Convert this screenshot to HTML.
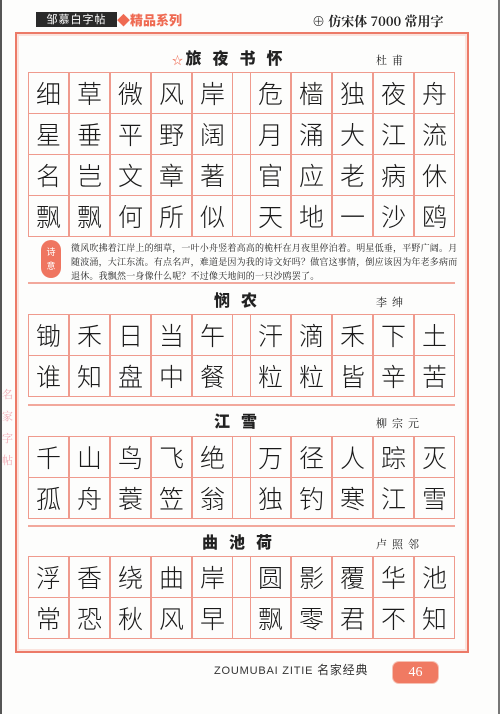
<!DOCTYPE html>
<html><head><meta charset="utf-8">
<style>
*{margin:0;padding:0;box-sizing:border-box}
body{width:500px;height:714px;background:#fdfdfc;position:relative;overflow:hidden;font-family:"Liberation Serif","Noto Serif CJK SC",serif}
.edgeL{position:absolute;left:0;top:0;width:2px;height:714px;background:#555}
.edgeR{position:absolute;right:0;top:0;width:2px;height:714px;background:#777}
.frame{position:absolute;left:15px;top:32px;width:454px;height:621px;border:2px solid #ec7a68;box-shadow:inset 0 0 0 2px #fbe3dd}
.abs{position:absolute}
.cell{position:absolute;width:41px;border:1px solid #ef9a8d;text-align:center;font-family:"Noto Sans CJK SC","Noto Serif CJK SC",sans-serif;font-weight:300;color:#1a1a1a;font-size:25px}
.gap{position:absolute;width:17px;border-top:1px solid #ef9a8d;border-bottom:1px solid #ef9a8d}
.title{position:absolute;font-family:"Noto Sans CJK SC",sans-serif;font-weight:900;font-size:16px;letter-spacing:11px;color:#222}
.author{position:absolute;font-family:"Noto Serif CJK SC",serif;font-size:11px;letter-spacing:5px;color:#222}
.sep{position:absolute;left:28px;width:427px;height:2px;background:#f2a89c}
</style></head><body>
<div class="edgeL"></div>
<div class="edgeR"></div>
<div class="abs" style="left:36px;top:12px;height:15px;width:81px;background:#2a2a2a;color:#fff;font-family:'Noto Sans CJK SC',sans-serif;font-size:11px;line-height:15px;text-align:center;letter-spacing:1px">邹慕白字帖</div>
<div class="abs" style="left:117px;top:11px;color:#ef6a52;font-family:'Noto Sans CJK SC',sans-serif;font-weight:900;font-size:13px;line-height:17px">◆精品系列</div>
<div class="abs" style="left:312px;top:11px;font-family:'Noto Serif CJK SC',serif;font-weight:700;font-size:13px;color:#222">⊕ 仿宋体 7000 常用字</div>
<div class="frame"></div>
<div class="abs" style="left:2px;top:383px;width:12px;font-size:11px;line-height:22px;color:#f0a9b3;font-family:'Noto Serif CJK SC',serif">名家字帖</div>
<div id="content"></div>
<div class="abs" style="left:41px;top:240px;width:20px;height:38px;border-radius:10px;background:#ef7560;color:#fff;font-size:9px;text-align:center;line-height:14px;padding-top:5px;font-family:'Noto Sans CJK SC',sans-serif">诗<br>意</div>
<div class="abs" style="left:71px;top:241px;width:389px;font-size:9px;letter-spacing:0.2px;line-height:14px;color:#222;font-family:'Noto Serif CJK SC',serif">微风吹拂着江岸上的细草，一叶小舟竖着高高的桅杆在月夜里停泊着。明星低垂，平野广阔。月随波涌，大江东流。有点名声，难道是因为我的诗文好吗？做官这事情，倒应该因为年老多病而退休。我飘然一身像什么呢？不过像天地间的一只沙鸥罢了。</div>
<div class="abs" style="left:214px;top:661px;font-family:'Liberation Sans','Noto Sans CJK SC',sans-serif;font-size:11px;letter-spacing:0.8px;color:#333">ZOUMUBAI ZITIE <span style="font-family:'Noto Sans CJK SC',sans-serif;font-size:12px">名家经典</span></div>
<div class="abs" style="left:393px;top:662px;width:45px;height:21px;background:#f07a62;border-radius:6px;box-shadow:0 0 0 1px #f6c1b4;color:#fff;text-align:center;font-size:14px;line-height:21px">46</div>
<script>
const titles=["旅夜书怀","悯农","江雪","曲池荷"];
const authors=["杜甫","李绅","柳宗元","卢照邻"];
const rowsChars=[
["细草微风岸危樯独夜舟","星垂平野阔月涌大江流","名岂文章著官应老病休","飘飘何所似天地一沙鸥"],
["锄禾日当午汗滴禾下土","谁知盘中餐粒粒皆辛苦"],
["千山鸟飞绝万径人踪灭","孤舟蓑笠翁独钓寒江雪"],
["浮香绕曲岸圆影覆华池","常恐秋风早飘零君不知"]];
const gridTops=[72,314,436,556];
const titleTops=[45,287,408,529];
const titleLefts=[184,214,214,202];
const sepTops=[282,404,525];
const c=document.getElementById('content');
const colX=[0,41,82,123,164,222,263,304,345,386];
for(let s=0;s<4;s++){
 const t=document.createElement('div');t.className='title';
 
 
 t.style.left=titleLefts[s]+'px';t.style.top=titleTops[s]+'px';
 t.textContent=titles[s];
 if(s===0){const st=document.createElement('span');st.textContent='☆ ';st.style.cssText='color:#ef6a52;font-size:11px;letter-spacing:0;font-weight:400';t.prepend(st);t.style.left='172px';}
 c.appendChild(t);
 const a=document.createElement('div');a.className='author';
 
 
 a.style.left='376px';a.style.top=(titleTops[s]+7)+'px';a.textContent=authors[s];c.appendChild(a);
 const rows=rowsChars[s];const h=41;
 for(let r=0;r<rows.length;r++){
  for(let k=0;k<10;k++){
   const d=document.createElement('div');d.className='cell';
   
   
   d.style.left=(28+colX[k])+'px';d.style.top=(gridTops[s]+r*h)+'px';d.style.height=(h+1)+'px';d.style.lineHeight=(h-1)+'px';
   d.textContent=rows[r][k];c.appendChild(d);
  }
  const g=document.createElement('div');g.className='gap';
  
  
  g.style.left='233px';g.style.top=(gridTops[s]+r*h)+'px';g.style.height=(h+1)+'px';c.appendChild(g);
 }
}
sepTops.forEach(y=>{const d=document.createElement('div');d.className='sep';
 
 
 d.style.top=y+'px';c.appendChild(d);});
</script>
</body></html>
